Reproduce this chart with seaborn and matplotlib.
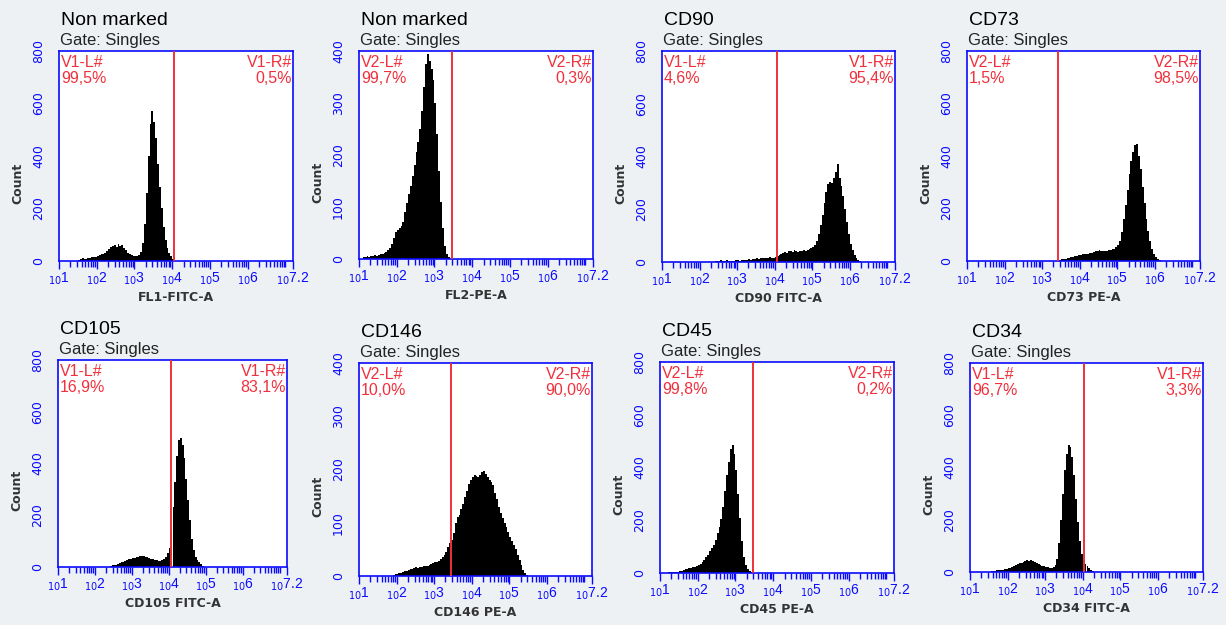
import numpy as np
import pandas as pd
import matplotlib.pyplot as plt
import seaborn as sns

sns.set_style('white')
plt.rcParams['font.family'] = ['Liberation Sans', 'DejaVu Sans']
plt.rcParams['mathtext.fontset'] = 'dejavusans'

# panel texts
titles = ['Non marked', 'Non marked', 'CD90', 'CD73', 'CD105', 'CD146', 'CD45', 'CD34']
channels = ['FL1-FITC-A', 'FL2-PE-A', 'CD90 FITC-A', 'CD73 PE-A',
            'CD105 FITC-A', 'CD146 PE-A', 'CD45 PE-A', 'CD34 FITC-A']
gate_names = ['V1', 'V2', 'V1', 'V2', 'V1', 'V2', 'V2', 'V1']
left_pct = ['99,5%', '99,7%', '4,6%', '1,5%', '16,9%', '10,0%', '99,8%', '96,7%']
right_pct = ['0,5%', '0,3%', '95,4%', '98,5%', '83,1%', '90,0%', '0,2%', '3,3%']
gate_pos = [4.05, 3.46, 4.05, 3.43, 4.06, 3.46, 3.46, 4.04]   # log10 of gate
y_max = [800, 400, 800, 800, 800, 400, 800, 800]

# histogram counts, 0.05-decade bins starting at hist_start (log10 units)
bin_w = 0.05
hist_start = [1.50, 1.10, 2.40, 3.45, 2.40, 1.90, 1.20, 1.55]

counts_nm_fitc = [3, 8, 10, 6, 9, 12, 10, 14, 17, 16, 20, 22, 25, 28, 32, 38, 45, 52, 58, 62,
                  55, 63, 58, 60, 50, 42, 32, 25, 22, 20, 18, 20, 22, 35, 70, 140, 260, 400, 520, 570,
                  530, 470, 370, 280, 200, 130, 80, 50, 30, 18, 8]
counts_nm_pe = [3, 4, 5, 4, 6, 5, 7, 6, 8, 9, 10, 12, 14, 18, 22, 28, 40, 52, 56, 60,
                64, 72, 90, 108, 125, 140, 160, 180, 205, 225, 250, 285, 330, 375, 395, 380, 365, 345, 300, 240,
                170, 110, 60, 25, 10, 4]
counts_cd90 = [3, 5, 4, 6, 5, 3, 6, 4, 2, 5, 4, 6, 7, 5, 8, 6, 9, 7, 10, 8,
               11, 12, 14, 12, 15, 16, 14, 17, 15, 18, 17, 16, 19, 24, 28, 32, 35, 38, 36, 40,
               42, 38, 44, 40, 38, 42, 40, 44, 42, 46, 48, 52, 58, 65, 80, 105, 140, 180, 225, 265,
               295, 305, 300, 320, 340, 370, 320, 290, 250, 200, 150, 105, 70, 45, 28, 15, 8, 3]
counts_cd73 = [4, 6, 8, 9, 11, 12, 14, 16, 18, 20, 22, 23, 25, 26, 27, 28, 30, 32, 35, 37,
               40, 42, 40, 38, 40, 39, 41, 42, 44, 46, 52, 62, 78, 110, 160, 215, 270, 330, 380, 415,
               440, 445, 400, 350, 280, 220, 160, 115, 75, 45, 25, 14, 8, 4]
counts_cd105 = [4, 6, 8, 7, 10, 14, 18, 20, 25, 28, 30, 32, 34, 36, 38, 40, 42, 44, 42, 40,
                38, 36, 32, 30, 28, 26, 24, 25, 28, 32, 40, 55, 75, 140, 230, 330, 430, 490, 500, 470,
                420, 340, 260, 180, 110, 65, 40, 28, 18, 10, 5]
counts_cd146 = [2, 3, 4, 5, 6, 7, 9, 10, 12, 14, 13, 15, 16, 15, 17, 16, 18, 19, 18, 20,
                22, 24, 26, 27, 29, 32, 36, 40, 46, 55, 62, 68, 80, 100, 110, 115, 125, 135, 148, 160,
                172, 180, 186, 190, 188, 185, 190, 196, 198, 192, 186, 180, 176, 170, 155, 145, 130, 118, 108, 100,
                92, 82, 74, 66, 58, 50, 40, 30, 20, 12, 6, 2]
counts_cd45 = [3, 4, 2, 3, 5, 4, 6, 7, 10, 14, 16, 18, 20, 22, 24, 28, 32, 36, 42, 50,
               60, 70, 82, 95, 108, 125, 150, 175, 205, 250, 310, 370, 420, 470, 485, 450, 390, 300, 210, 120,
               60, 30, 14, 6, 2]
counts_cd34 = [3, 5, 4, 6, 8, 7, 9, 11, 13, 15, 17, 20, 23, 26, 30, 33, 36, 40, 42, 45,
               44, 46, 42, 38, 34, 30, 26, 24, 22, 20, 18, 17, 16, 18, 25, 50, 110, 200, 300, 390,
               450, 485, 480, 440, 370, 280, 190, 120, 70, 45, 32, 22, 14, 8, 4]
all_counts = [counts_nm_fitc, counts_nm_pe, counts_cd90, counts_cd73,
              counts_cd105, counts_cd146, counts_cd45, counts_cd34]

# axes boxes in pixels: left, top, right, bottom
boxes = [(59, 51, 293, 261), (359, 51, 593, 259), (662, 51, 895, 262), (967, 51, 1200, 261),
         (58, 360, 287, 567), (359, 363, 592, 576), (660, 362, 894, 573), (970, 363, 1203, 572)]

W, H = 1226, 625
BLUE = '#0a0aff'
RED = '#f0303c'
BG = '#edf1f4'


def px(v):
    return v * 0.72


fig = plt.figure(figsize=(W / 100, H / 100), dpi=100, facecolor=BG)

major = [1, 2, 3, 4, 5, 6, 7.2]
major_labels = [r'$_{10}$' + str(e) for e in [1, 2, 3, 4, 5, 6, 7.2]]
minor = [np.log10(k * 10.0 ** d) for d in range(1, 7) for k in range(2, 10)] + [7.0]

for i in range(8):
    l, t, r, b = boxes[i]
    ax = fig.add_axes([l / W, 1 - b / H, (r - l) / W, (b - t) / H])
    ax.set_facecolor('white')

    counts = np.array(all_counts[i], dtype=float)
    edges = np.round(hist_start[i] + bin_w * np.arange(len(counts) + 1), 4)
    df = pd.DataFrame({'x': (edges[:-1] + edges[1:]) / 2, 'n': counts})
    sns.histplot(data=df, x='x', weights='n', bins=list(edges), element='bars', fill=True,
                 color='black', edgecolor='black', alpha=1, linewidth=0, shrink=1,
                 antialiased=False, ax=ax)

    ax.axvline(gate_pos[i], color=RED, lw=1.4, zorder=5)

    ax.set_xlim(1, 7.2)
    ax.set_ylim(0, y_max[i])
    ax.set_xlabel('')
    ax.set_ylabel('')

    ax.set_xticks(major)
    ax.set_xticklabels(major_labels)
    ax.set_xticks(minor, minor=True)
    ax.tick_params(axis='x', which='both', bottom=True, direction='out', width=1.0, color=BLUE)
    ax.tick_params(axis='x', which='major', length=px(8), labelcolor=BLUE, labelsize=10, pad=px(2))
    ax.tick_params(axis='x', which='minor', length=px(6))

    yt = np.linspace(0, y_max[i], 5)
    ax.set_yticks(yt)
    ax.set_yticklabels([str(int(v)) for v in yt], family='DejaVu Sans')
    ax.tick_params(axis='y', left=False, length=0, pad=px(14), labelsize=9, labelcolor=BLUE,
                   labelrotation=90)
    for lab in ax.get_yticklabels():
        lab.set_va('center')

    for s in ax.spines.values():
        s.set_color(BLUE)
        s.set_linewidth(1.2)

    # texts
    ax.annotate(titles[i], xy=(0, 1), xycoords='axes fraction', xytext=(px(2), px(26)),
                textcoords='offset points', ha='left', va='baseline', fontsize=14, color='black')
    ax.annotate('Gate: Singles', xy=(0, 1), xycoords='axes fraction', xytext=(px(1), px(6)),
                textcoords='offset points', ha='left', va='baseline', fontsize=12, color='#222222')
    g = gate_names[i]
    ax.annotate(g + '-L#', xy=(0, 1), xycoords='axes fraction', xytext=(px(2), -px(16)),
                textcoords='offset points', ha='left', va='baseline', fontsize=11.5, color=RED)
    ax.annotate(left_pct[i], xy=(0, 1), xycoords='axes fraction', xytext=(px(2), -px(32)),
                textcoords='offset points', ha='left', va='baseline', fontsize=11.5, color=RED)
    ax.annotate(g + '-R#', xy=(1, 1), xycoords='axes fraction', xytext=(-px(1), -px(16)),
                textcoords='offset points', ha='right', va='baseline', fontsize=11.5, color=RED)
    ax.annotate(right_pct[i], xy=(1, 1), xycoords='axes fraction', xytext=(-px(1), -px(32)),
                textcoords='offset points', ha='right', va='baseline', fontsize=11.5, color=RED)
    ax.annotate(channels[i], xy=(0.5, 0), xycoords='axes fraction', xytext=(0, -px(30)),
                textcoords='offset points', ha='center', va='top', fontsize=9, fontweight='bold',
                family='DejaVu Sans', color='#333333')
    ax.annotate('Count', xy=(0, 0.5), xycoords='axes fraction', xytext=(-px(41), -px(27)),
                textcoords='offset points', ha='center', va='center', rotation=90, fontsize=9,
                fontweight='bold', family='DejaVu Sans', color='#333333')

fig.savefig('out.png', dpi=100, facecolor=BG)
